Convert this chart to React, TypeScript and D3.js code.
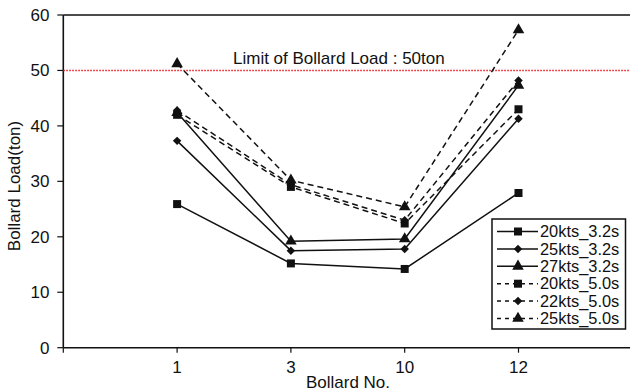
import React, { useEffect } from "react";
import * as d3 from "d3";

// Bollard numbers along the x axis
const bollards = ["1", "3", "10", "12"];

// Load values (ton) per case
const load20kts32 = [25.9, 15.2, 14.2, 27.9];
const load25kts32 = [37.3, 17.5, 17.8, 41.3];
const load27kts32 = [42.4, 19.2, 19.6, 47.3];
const load20kts50 = [42.0, 29.0, 22.4, 43.0];
const load22kts50 = [42.8, 29.4, 23.0, 48.2];
const load25kts50 = [51.2, 30.2, 25.4, 57.3];

const yTicks = [0, 10, 20, 30, 40, 50, 60];
const limitLoad = 50;

const series = [
  { name: "20kts_3.2s", values: load20kts32, marker: "square", dashed: false },
  { name: "25kts_3.2s", values: load25kts32, marker: "diamond", dashed: false },
  { name: "27kts_3.2s", values: load27kts32, marker: "triangle", dashed: false },
  { name: "20kts_5.0s", values: load20kts50, marker: "square", dashed: true },
  { name: "22kts_5.0s", values: load22kts50, marker: "diamond", dashed: true },
  { name: "25kts_5.0s", values: load25kts50, marker: "triangle", dashed: true },
];

const FONT = "'Liberation Sans', Arial, sans-serif";
const INK = "#111";
const FS = 17;

// square / rotated square / triangle markers
const markerPath = (m: string) =>
  m === "square"
    ? d3.symbol().type(d3.symbolSquare).size(64)()
    : m === "diamond"
    ? d3.symbol().type(d3.symbolSquare).size(36)()
    : d3.symbol().type(d3.symbolTriangle).size(58)();

const markerRotate = (m: string) => (m === "diamond" ? " rotate(45)" : "");

const App = () => {
  useEffect(() => {
    document.body.style.margin = "0";
  }, []);

  const width = 630;
  const height = 392;
  const left = 63.3;
  const top = 15;
  const bottom = 347.7;

  // slot 0 is the origin, bollards sit on slots 1..4, slot 5 is the right edge
  const x = d3.scaleLinear().domain([0, 5]).range([left, left + 5 * 113.8]);
  const y = d3.scaleLinear().domain([0, 60]).range([bottom, top]);

  const line = d3
    .line<number>()
    .x((d, i) => x(i + 1))
    .y((d) => y(d));

  const legendX = 492;
  const legendY = 219;
  const rowH = 17.4;

  return (
    <svg width={width} height={height} style={{ display: "block", background: "#fff" }}>
      {/* frame top line */}
      <line x1={left} x2={width} y1={top} y2={top} stroke={INK} strokeWidth={1.6} />
      {/* y axis */}
      <line x1={left} x2={left} y1={top} y2={bottom} stroke={INK} strokeWidth={1.6} />
      {yTicks.map((t) => (
        <g key={t}>
          <line x1={left - 6} x2={left} y1={y(t)} y2={y(t)} stroke={INK} strokeWidth={1.2} />
          <text
            x={49.5}
            y={y(t)}
            dy="0.35em"
            textAnchor="end"
            fontFamily={FONT}
            fontSize={FS}
            fill={INK}
          >
            {t}
          </text>
        </g>
      ))}
      <text
        transform={`translate(14,186) rotate(-90)`}
        textAnchor="middle"
        dy="0.35em"
        fontFamily={FONT}
        fontSize={FS}
        fill={INK}
      >
        Bollard Load(ton)
      </text>

      {/* x axis */}
      <line x1={left} x2={width} y1={bottom} y2={bottom} stroke={INK} strokeWidth={1.6} />
      <line x1={x(0)} x2={x(0)} y1={bottom} y2={bottom + 5} stroke={INK} strokeWidth={1.2} />
      {bollards.map((b, i) => (
        <g key={b}>
          <line x1={x(i + 1)} x2={x(i + 1)} y1={bottom} y2={bottom + 5} stroke={INK} strokeWidth={1.2} />
          <text
            x={x(i + 1)}
            y={367}
            dy="0.35em"
            textAnchor="middle"
            fontFamily={FONT}
            fontSize={FS}
            fill={INK}
          >
            {b}
          </text>
        </g>
      ))}
      <text x={348} y={388} textAnchor="middle" fontFamily={FONT} fontSize={FS} fill={INK}>
        Bollard No.
      </text>

      {/* limit line */}
      <line
        x1={left}
        x2={width}
        y1={y(limitLoad)}
        y2={y(limitLoad)}
        stroke="#e8141c"
        strokeWidth={1.5}
        strokeDasharray="1.5,1.5"
      />
      <text x={233} y={58} dy="0.35em" fontFamily={FONT} fontSize={FS} fill={INK}>
        Limit of Bollard Load : 50ton
      </text>

      {/* series */}
      {series.map((s) => (
        <g key={s.name}>
          <path
            d={line(s.values) || ""}
            fill="none"
            stroke={INK}
            strokeWidth={1.5}
            strokeDasharray={s.dashed ? "6,4" : undefined}
          />
          {s.values.map((v, i) => (
            <path
              key={i}
              d={markerPath(s.marker) || ""}
              transform={`translate(${x(i + 1)},${y(v)})${markerRotate(s.marker)}`}
              fill={INK}
            />
          ))}
        </g>
      ))}

      {/* legend */}
      <rect
        x={legendX}
        y={legendY}
        width={133.5}
        height={110}
        fill="#fff"
        stroke={INK}
        strokeWidth={1.5}
      />
      {series.map((s, i) => {
        const cy = legendY + 12.5 + i * rowH;
        return (
          <g key={s.name}>
            <line
              x1={497}
              x2={538}
              y1={cy}
              y2={cy}
              stroke={INK}
              strokeWidth={1.5}
              strokeDasharray={s.dashed ? "4,4" : undefined}
            />
            <path
              d={markerPath(s.marker) || ""}
              transform={`translate(518,${cy})${markerRotate(s.marker)}`}
              fill={INK}
            />
            <text x={540} y={cy} dy="0.35em" fontFamily={FONT} fontSize={16.4} fill={INK}>
              {s.name}
            </text>
          </g>
        );
      })}
    </svg>
  );
};

export default App;
